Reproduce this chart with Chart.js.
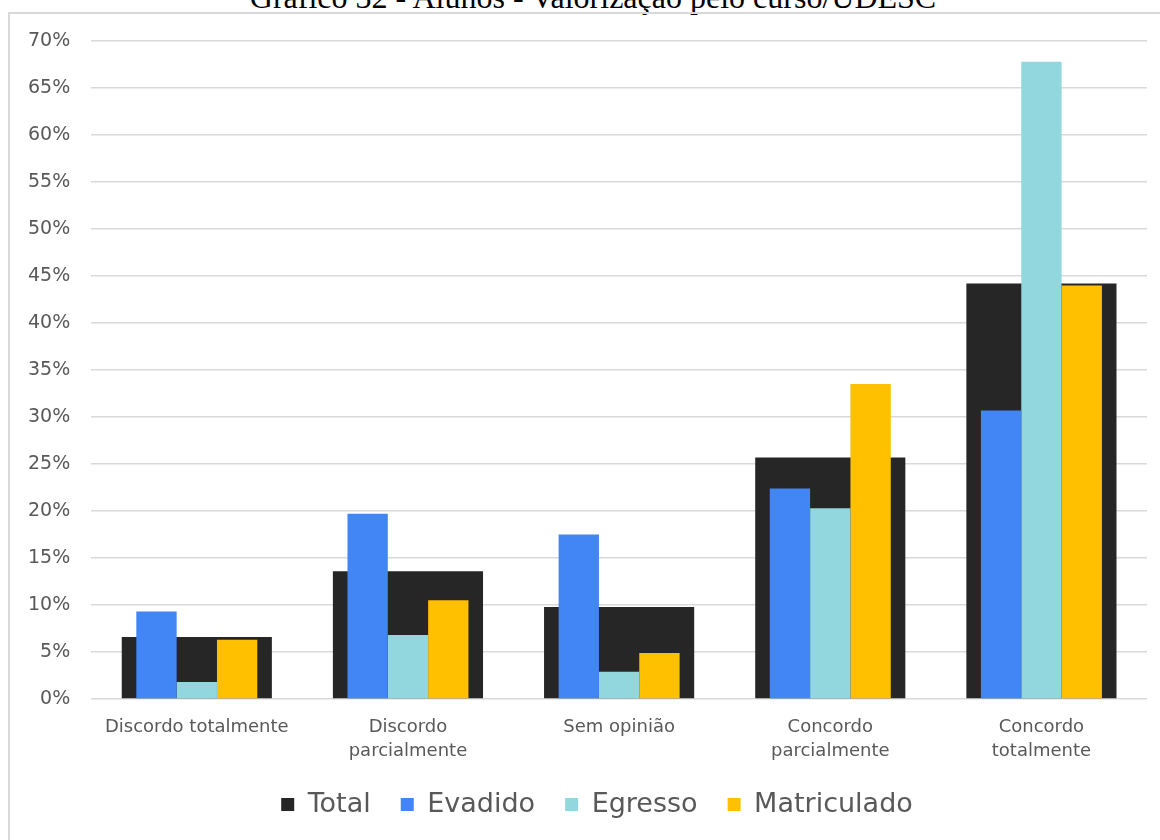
<!DOCTYPE html>
<html lang="pt">
<head>
<meta charset="utf-8">
<script src="https://cdn.jsdelivr.net/npm/chart.js@4.4.1/dist/chart.umd.min.js"></script>
<style>
  html, body { margin: 0; padding: 0; background: #ffffff; overflow: hidden; }
  #wrap { position: relative; width: 1160px; height: 840px; overflow: hidden; }
  #caption {
    position: absolute; left: 0; width: 1186px; top: -21px;
    text-align: center; font-family: "Liberation Serif", "Times New Roman", serif;
    font-size: 32px; line-height: 36px; color: #000; white-space: nowrap;
  }
  #frame {
    position: absolute; left: 8px; top: 12px; width: 1170px; height: 850px;
    border: 2px solid #d9d9d9; box-sizing: border-box;
  }
  #chart { position: absolute; left: 0; top: 0; }
</style>
</head>
<body>
<div id="wrap">
  <div id="caption">Gráfico 32 - Alunos - Valorização pelo curso/UDESC</div>
  <div id="frame"></div>
  <canvas id="chart" width="1160" height="840"></canvas>
</div>
<script>
// Response categories (multi-line labels where the axis wraps them)
const categories = [
  'Discordo totalmente',
  ['Discordo', 'parcialmente'],
  'Sem opinião',
  ['Concordo', 'parcialmente'],
  ['Concordo', 'totalmente']
];

// Percentages per group of students
const totalValues       = [6.6, 13.6, 9.8, 25.7, 44.2];
const evadidoValues     = [9.3, 19.7, 17.5, 22.4, 30.7];
const egressoValues     = [1.8, 6.8, 2.9, 20.3, 67.8];
const matriculadoValues = [6.3, 10.5, 4.9, 33.5, 44.0];

// Y axis range (percent)
const yMin = 0, yMax = 70, yStep = 5;

const textColor = '#595959';
const gridColor = '#d9d9d9';
const sansFont = '"DejaVu Sans", Verdana, sans-serif';

// Nudges the legend row to the right after layout
const legendOffset = {
  id: 'legendOffset',
  afterLayout(chart) {
    const lg = chart.legend;
    if (lg) { lg.left += 20; lg.right += 20; }
  }
};

new Chart(document.getElementById('chart'), {
  type: 'bar',
  data: {
    labels: categories,
    datasets: [
      {
        // wide bar behind each group, not part of the grouping
        label: 'Total', data: totalValues, backgroundColor: '#262626',
        grouped: false, order: 1,
        categoryPercentage: 0.711, barPercentage: 1.0
      },
      {
        label: 'Evadido', data: evadidoValues, backgroundColor: '#4285F4',
        order: 0, categoryPercentage: 0.573, barPercentage: 1.0
      },
      {
        label: 'Egresso', data: egressoValues, backgroundColor: '#92D7DE',
        order: 0, categoryPercentage: 0.573, barPercentage: 1.0
      },
      {
        label: 'Matriculado', data: matriculadoValues, backgroundColor: '#FFC000',
        order: 0, categoryPercentage: 0.573, barPercentage: 1.0
      }
    ]
  },
  plugins: [legendOffset],
  options: {
    responsive: false,
    animation: false,
    layout: { padding: { left: 7, right: 13, top: 41, bottom: 12 } },
    scales: {
      x: {
        type: 'category',
        offset: true,
        grid: { display: false, drawTicks: false },
        border: { display: false },
        ticks: {
          color: textColor, padding: 16, maxRotation: 0, autoSkip: false,
          font: { family: sansFont, size: 18, lineHeight: 1.36 }
        },
        afterFit: scale => { scale.height = 62; }
      },
      y: {
        min: yMin, max: yMax,
        ticks: {
          stepSize: yStep, color: textColor, padding: 21,
          font: { family: sansFont, size: 19 },
          callback: v => v + '%'
        },
        grid: { color: gridColor, lineWidth: 1.5, drawTicks: false },
        border: { display: false }
      }
    },
    plugins: {
      legend: {
        position: 'bottom',
        labels: {
          color: textColor,
          boxWidth: 13, boxHeight: 13, padding: 30,
          font: { family: sansFont, size: 27 },
          sort: (a, b) => a.datasetIndex - b.datasetIndex
        }
      },
      tooltip: { enabled: false }
    }
  }
});
</script>
</body>
</html>
